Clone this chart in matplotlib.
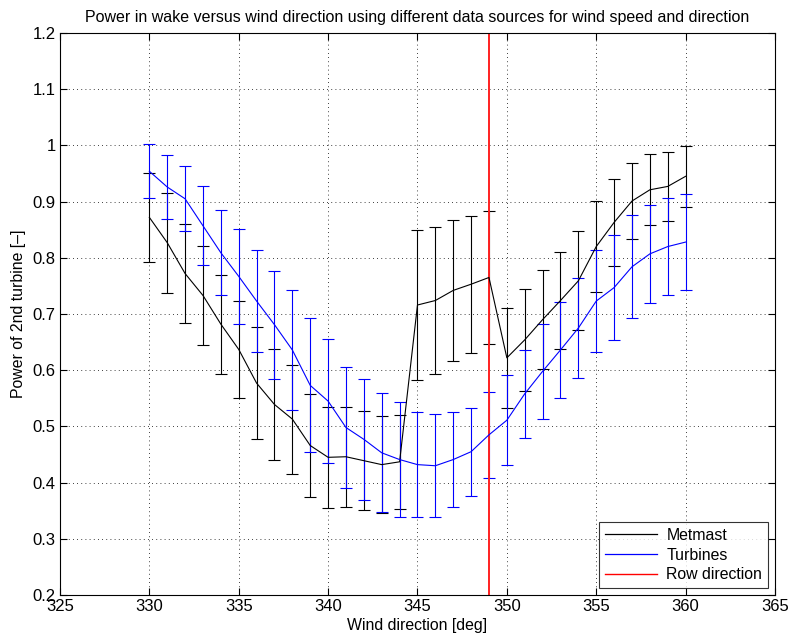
import matplotlib
matplotlib.use("Agg")
import matplotlib.pyplot as plt
from matplotlib.lines import Line2D

plt.rcParams['font.family'] = ['Liberation Sans', 'DejaVu Sans']

direction = list(range(330, 361))

metmast_mean = [0.872, 0.827, 0.772, 0.733, 0.682, 0.637, 0.577, 0.539, 0.513, 0.466,
                0.445, 0.446, 0.439, 0.432, 0.437, 0.716, 0.724, 0.742, 0.753, 0.765,
                0.622, 0.654, 0.690, 0.724, 0.759, 0.820, 0.863, 0.901, 0.921, 0.927,
                0.945]
metmast_err = [0.079, 0.089, 0.088, 0.088, 0.088, 0.086, 0.100, 0.099, 0.097, 0.092,
               0.090, 0.089, 0.088, 0.086, 0.084, 0.133, 0.130, 0.125, 0.122, 0.118,
               0.089, 0.091, 0.088, 0.087, 0.088, 0.081, 0.077, 0.068, 0.063, 0.062,
               0.054]

turbine_mean = [0.954, 0.926, 0.905, 0.857, 0.809, 0.767, 0.723, 0.681, 0.636, 0.573,
                0.545, 0.498, 0.477, 0.453, 0.441, 0.432, 0.430, 0.441, 0.455, 0.485,
                0.511, 0.558, 0.598, 0.636, 0.675, 0.723, 0.747, 0.784, 0.807, 0.820,
                0.828]
turbine_err = [0.048, 0.057, 0.058, 0.070, 0.076, 0.085, 0.090, 0.096, 0.107, 0.119,
               0.111, 0.108, 0.108, 0.106, 0.103, 0.094, 0.092, 0.085, 0.078, 0.076,
               0.080, 0.078, 0.085, 0.085, 0.089, 0.091, 0.093, 0.092, 0.087, 0.087,
               0.086]

row_direction = 349

fig = plt.figure(figsize=(7.9, 6.42), dpi=100)
ax = fig.add_axes([0.0759, 0.0732, 0.9051, 0.8754])

ax.errorbar(direction, metmast_mean, yerr=metmast_err, color='black', lw=0.8,
            capsize=4.3, elinewidth=0.8, capthick=0.8)
ax.errorbar(direction, turbine_mean, yerr=turbine_err, color='blue', lw=0.8,
            capsize=4.3, elinewidth=0.8, capthick=0.8)
ax.axvline(row_direction, color='#ff2020', lw=1.4)

ax.set_xlim(325, 365)
ax.set_ylim(0.2, 1.2)
ax.set_xticks(range(325, 366, 5))
ax.set_yticks([0.2, 0.3, 0.4, 0.5, 0.6, 0.7, 0.8, 0.9, 1.0, 1.1, 1.2])
ax.set_yticklabels(['0.2', '0.3', '0.4', '0.5', '0.6', '0.7', '0.8', '0.9', '1', '1.1', '1.2'])

ax.grid(True, color='black', linestyle=(0, (1, 4)), linewidth=0.6)
ax.tick_params(direction='in', top=True, right=True, labelsize=12, length=5, width=0.8, pad=3)
for s in ax.spines.values():
    s.set_linewidth(0.8)

ax.set_title('Power in wake versus wind direction using different data sources for wind speed and direction',
             fontsize=11.5, pad=8)
ax.set_xlabel('Wind direction [deg]', fontsize=11.4, labelpad=2.5)
ax.set_ylabel('Power of 2nd turbine [\u2013]', fontsize=11.4, labelpad=5)

leg_handles = [Line2D([], [], color='black', lw=0.9),
               Line2D([], [], color='blue', lw=0.9),
               Line2D([], [], color='red', lw=1.0)]
leg = ax.legend(leg_handles, ['Metmast', 'Turbines', 'Row direction'], loc='lower right',
                fontsize=11.4, frameon=True, fancybox=False, edgecolor='black',
                borderaxespad=0.45, handlelength=3.3, handletextpad=0.6,
                labelspacing=0.3, borderpad=0.35)
leg.get_frame().set_linewidth(0.8)

fig.savefig('out.png', dpi=100)
